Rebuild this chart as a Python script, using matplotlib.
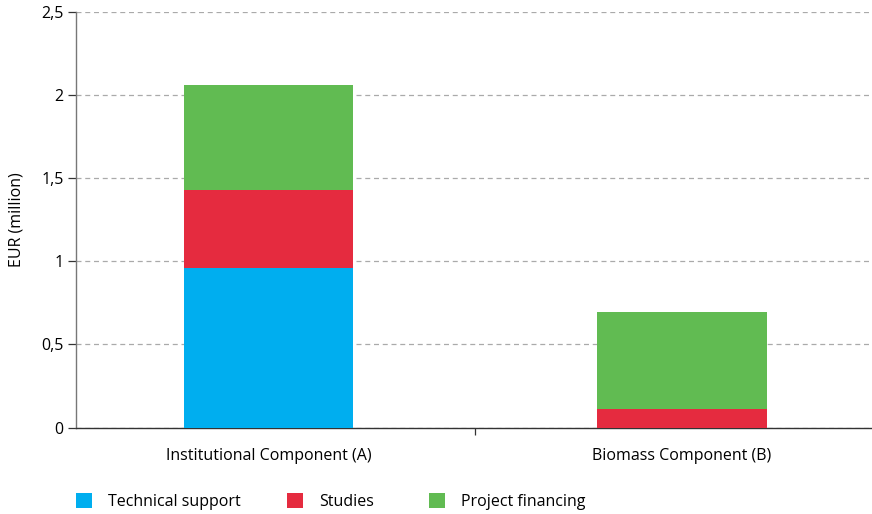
import matplotlib
matplotlib.use('Agg')
import matplotlib.pyplot as plt
from matplotlib.patches import Patch
from matplotlib.ticker import FuncFormatter

plt.rcParams['font.family'] = ['Open Sans', 'DejaVu Sans']

COMPONENTS = ['Institutional Component (A)', 'Biomass Component (B)']
SERIES = ['Technical support', 'Studies', 'Project financing']
COLORS = ['#00AEEF', '#E52B3F', '#61BB52']

TECHNICAL_SUPPORT = [0.96, 0.0]
STUDIES = [0.47, 0.112]
PROJECT_FINANCING = [0.63, 0.583]

values = [TECHNICAL_SUPPORT, STUDIES, PROJECT_FINANCING]

fig = plt.figure(figsize=(8.72, 5.14), dpi=100)
ax = fig.add_axes([0.0875, 0.168, 0.9125, 0.809])

x_positions = list(range(len(COMPONENTS)))
bottoms = [0.0] * len(COMPONENTS)
for series_values, color in zip(values, COLORS):
    ax.bar(x_positions, series_values, width=0.41, bottom=bottoms, color=color, zorder=3)
    bottoms = [b + v for b, v in zip(bottoms, series_values)]

ax.set_ylim(0, 2.5)
ax.set_xlim(-0.465, 1.46)
ax.set_yticks([0, 0.5, 1, 1.5, 2, 2.5])
ax.yaxis.set_major_formatter(FuncFormatter(lambda v, _: f'{v:g}'.replace('.', ',')))
ax.grid(axis='y', color='#aaaaaa', linestyle=(0, (4, 3)), linewidth=0.9, zorder=0)

# category labels under the bars, separator tick between the groups
ax.set_xticks(x_positions)
ax.set_xticklabels(COMPONENTS, fontsize=11.5)
ax.tick_params(axis='x', length=0, pad=15)
ax.set_xticks([0.5], minor=True)
ax.tick_params(axis='x', which='minor', length=5, width=0.9, color='#333333', direction='out')
ax.tick_params(axis='y', length=6, width=0.9, color='#333333', labelsize=11.5, pad=3)

for side in ['top', 'right']:
    ax.spines[side].set_visible(False)
ax.spines['left'].set_color('#777777')
ax.spines['bottom'].set_color('#333333')
ax.spines['left'].set_linewidth(1.0)
ax.spines['bottom'].set_linewidth(1.0)

ax.set_ylabel('EUR (million)', fontsize=11.5, labelpad=12)

# one legend entry per series, spaced along the bottom edge
legend_x = [0.071, 0.313, 0.476]
for label, color, x in zip(SERIES, COLORS, legend_x):
    fig.legend([Patch(facecolor=color, edgecolor='none')], [label], loc='lower left',
               bbox_to_anchor=(x, -0.02), frameon=False, fontsize=11.5,
               handlelength=1.0, handleheight=1.0, handletextpad=1.0)

fig.savefig('out.png', dpi=100)
